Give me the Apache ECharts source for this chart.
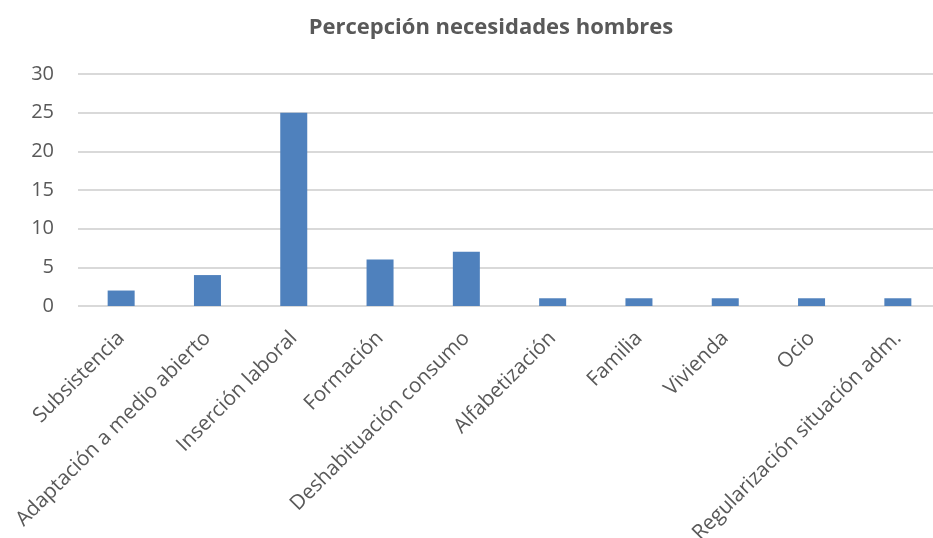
<!DOCTYPE html>
<html>
<head>
<meta charset="utf-8">
<script src="https://cdn.jsdelivr.net/npm/echarts@6/dist/echarts.min.js"></script>
<style>
  html, body { margin: 0; padding: 0; background: #fff; }
  #chart { width: 933px; height: 538px; }
</style>
</head>
<body>
<div id="chart"></div>
<script>
// datos del gráfico
const categories = ['Subsistencia', 'Adaptación a medio abierto', 'Inserción laboral', 'Formación',
  'Deshabituación consumo', 'Alfabetización', 'Familia', 'Vivienda', 'Ocio', 'Regularización situación adm.']
const values = [2, 4, 25, 6, 7, 1, 1, 1, 1, 1]
const yTicks = [0, 5, 10, 15, 20, 25, 30]

const chart = echarts.init(document.getElementById('chart'))
const font = 'Open Sans'

const option = {
  animation: false,
  title: {
    text: 'Percepción necesidades hombres',
    left: 486,
    top: 12,
    textAlign: 'center',
    textStyle: { color: '#595959', fontSize: 22, fontWeight: 'bold', fontFamily: font }
  },
  // el gráfico original está recortado por la derecha
  grid: { left: 78, width: 863, top: 74, height: 232, containLabel: false, outerBoundsMode: 'none' },
  xAxis: {
    type: 'category',
    data: categories,
    axisLine: { show: false },
    axisTick: { show: false },
    axisLabel: {
      rotate: 45,
      interval: 0,
      margin: 29,
      color: '#595959',
      fontSize: 20.6,
      fontFamily: font
    }
  },
  yAxis: {
    type: 'value',
    min: yTicks[0],
    max: yTicks[yTicks.length - 1],
    interval: 5,
    axisLine: { show: false },
    axisTick: { show: false },
    axisLabel: { color: '#595959', fontSize: 20, fontFamily: font, margin: 24 },
    splitLine: { lineStyle: { color: '#d9d9d9', width: 2 } }
  },
  series: [
    {
      type: 'bar',
      data: values,
      barWidth: 27,
      itemStyle: { color: '#4f81bd' }
    }
  ]
}
chart.setOption(option)
</script>
</body>
</html>
